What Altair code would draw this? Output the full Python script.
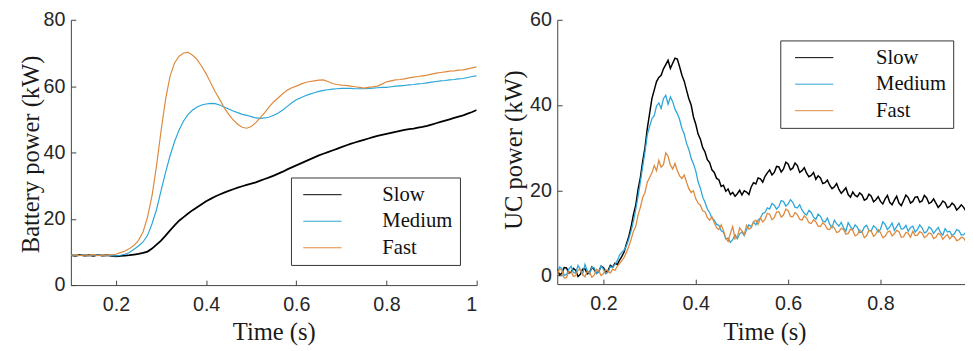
import altair as alt
import pandas as pd

SERIES = ["Slow", "Medium", "Fast"]
COLORS = ["#000000", "#2BA6D9", "#DE8A3E"]

# time grids (s)
t_left = [round(0.10 + 0.01 * i, 2) for i in range(91)]     # 0.10 .. 1.00
t_right = [round(0.10 + 0.005 * i, 3) for i in range(179)]  # 0.100 .. 0.990

# ---- Battery power (kW), left panel ----
bat_slow = [9.0, 8.8, 9.1, 8.9, 9.0, 8.8, 9.1, 8.9, 9.0, 8.8, 8.7,
            8.8, 8.9, 9.0, 9.2, 9.4, 9.7, 10.1, 11.0, 12.2, 13.4,
            14.9, 16.5, 18.0, 19.4, 20.5, 21.6, 22.6, 23.5, 24.4, 25.3,
            26.0, 26.7, 27.3, 27.9, 28.4, 28.9, 29.4, 29.8, 30.2, 30.6,
            31.0, 31.5, 32.0, 32.5, 33.0, 33.6, 34.2, 34.9, 35.5, 36.1,
            36.7, 37.3, 37.9, 38.5, 39.1, 39.6, 40.1, 40.6, 41.1, 41.6,
            42.1, 42.6, 43.0, 43.4, 43.8, 44.2, 44.6, 45.0, 45.3, 45.6,
            45.9, 46.2, 46.5, 46.8, 47.0, 47.2, 47.5, 47.7, 48.0, 48.4,
            48.8, 49.2, 49.6, 50.0, 50.4, 50.8, 51.2, 51.7, 52.2, 52.8]
bat_medium = [9.1, 8.9, 9.0, 9.2, 8.9, 9.0, 9.1, 8.9, 9.0, 8.9, 8.8,
              9.0, 9.3, 9.8, 10.8, 11.8, 13.0, 15.0, 18.5, 22.8, 28.5,
              34.0, 39.0, 43.3, 46.8, 49.5, 51.5, 52.8, 53.7, 54.3, 54.6,
              54.8, 54.7, 54.3, 53.7, 53.1, 52.5, 52.0, 51.5, 51.2, 50.8,
              50.4, 50.3, 50.4, 50.7, 51.2, 51.9, 52.8, 53.9, 55.0, 55.9,
              56.5, 57.1, 57.6, 58.0, 58.4, 58.7, 58.9, 59.1, 59.2, 59.3,
              59.3, 59.3, 59.2, 59.2, 59.2, 59.3, 59.4, 59.5, 59.6, 59.6,
              59.8, 60.0, 60.1, 60.2, 60.4, 60.5, 60.7, 60.8, 61.0, 61.2,
              61.4, 61.6, 61.7, 61.9, 62.0, 62.2, 62.3, 62.6, 62.9, 63.1]
bat_fast = [9.0, 9.2, 8.9, 9.1, 9.0, 9.2, 8.9, 9.1, 9.0, 9.2, 9.3,
            9.8, 10.3, 11.0, 12.0, 13.5, 16.0, 20.5, 27.0, 36.0, 46.5,
            56.0, 63.0, 67.0, 69.0, 70.0, 70.2, 69.3, 68.0, 66.0, 63.7,
            61.0, 58.3, 56.0, 53.5, 51.5, 49.8, 48.5, 47.6, 47.3, 47.8,
            49.0, 50.5, 52.0, 53.8, 55.3, 56.5, 57.7, 58.8, 59.5, 60.0,
            60.6, 61.1, 61.4, 61.6, 61.8, 61.9, 61.4, 60.8, 60.5, 60.3,
            60.2, 60.0, 59.8, 59.6, 59.4, 59.6, 59.8, 60.0, 60.6, 61.3,
            61.6, 61.9, 62.0, 62.2, 62.5, 62.7, 62.9, 63.1, 63.3, 63.6,
            63.9, 64.1, 64.3, 64.5, 64.6, 64.8, 64.9, 65.2, 65.5, 65.8]

# ---- UC power (kW), right panel, every 0.005 s ----
uc_slow = [1.5, 0.2, 0.5, 1.9, 1.8, 0.6, 0.8, 1.7, 1.2, -0.2,
           0.3, 1.5, 1.6, 0.4, 0.7, 2.0, 1.4, 0.5, 1.0, 2.2,
           1.9, 0.8, 1.2, 2.4, 2.0, 2.9, 2.6, 3.6, 4.5, 5.6,
           7.5, 9.2, 11.5, 14.3, 16.5, 20.2, 23.0, 26.8, 30.0, 34.5,
           38.0, 41.5, 43.5, 45.5, 46.5, 47.0, 48.5, 49.5, 50.5, 48.6,
           49.8, 51.0, 50.8, 49.0, 47.0, 45.6, 43.5, 41.5, 40.0, 37.2,
           35.5, 33.2, 32.0, 30.0, 29.0, 27.2, 26.5, 24.8, 24.2, 22.8,
           22.5, 20.9, 21.2, 19.8, 20.3, 19.0, 19.5, 18.6, 19.2, 20.0,
           18.9, 19.9, 19.6, 19.0, 20.8, 21.8, 21.5, 22.9, 22.7, 21.9,
           23.3, 24.1, 24.8, 23.6, 24.2, 25.6, 25.5, 24.3, 25.0, 26.6,
           26.2, 24.8, 25.2, 26.4, 25.8, 24.2, 24.6, 25.3, 24.0, 23.2,
           23.5, 24.2, 22.6, 23.4, 22.9, 21.6, 21.8, 22.4, 21.2, 20.4,
           20.8, 21.6, 20.2, 19.3, 19.9, 20.6, 19.0, 18.4, 19.6, 18.8,
           18.5, 19.4, 18.9, 17.7, 18.0, 19.1, 18.6, 17.3, 17.8, 18.5,
           17.4, 16.8, 18.0, 18.8, 17.2, 16.6, 17.7, 18.6, 17.0, 16.4,
           17.6, 18.9, 18.3, 17.0, 17.4, 18.4, 18.5, 17.2, 17.5, 18.8,
           18.2, 16.9, 17.2, 18.0, 17.0, 16.0, 16.6, 17.5, 17.1, 15.9,
           16.2, 17.0, 16.5, 15.4, 15.9, 16.6, 16.0, 15.1, 15.4]
uc_medium = [0.8, 2.0, 1.6, 0.1, 0.2, 1.5, 2.2, 0.7, 0.6, 2.4,
             1.4, 0.3, 2.6, 1.2, 0.4, 1.9, 1.8, 0.5, 0.9, 2.3,
             1.5, 0.4, 0.8, 2.1, 1.9, 2.6, 3.5, 4.8, 5.5, 6.0,
             7.0, 8.6, 10.5, 12.8, 15.5, 18.6, 22.0, 25.6, 29.0, 33.0,
             35.0, 36.8, 37.5, 39.8, 40.5, 39.2, 41.5, 42.3, 40.2, 41.9,
             40.8, 39.0, 38.0, 36.6, 34.5, 33.2, 31.0, 29.6, 27.5, 26.2,
             24.5, 22.0, 20.5, 18.4, 17.2, 15.6, 14.8, 13.5, 13.0, 12.0,
             11.8, 10.5, 10.2, 8.6, 8.8, 7.8, 8.4, 9.6, 8.6, 9.8,
             10.2, 9.4, 10.8, 11.9, 11.4, 12.6, 11.9, 13.0, 13.5, 14.6,
             14.8, 15.9, 15.6, 16.9, 16.5, 15.6, 16.2, 17.6, 17.4, 16.3,
             16.8, 17.8, 17.2, 16.0, 15.9, 16.6, 15.4, 14.6, 14.2, 15.3,
             14.8, 13.7, 13.2, 14.4, 13.9, 12.8, 12.6, 13.5, 12.0, 11.2,
             13.0, 12.2, 11.6, 12.5, 11.2, 10.4, 12.4, 11.5, 10.8, 11.9,
             11.3, 10.1, 10.2, 11.4, 11.8, 10.6, 10.5, 11.7, 11.2, 10.2,
             10.9, 12.6, 12.0, 10.8, 11.4, 12.3, 10.6, 11.5, 12.3, 10.9,
             11.0, 11.8, 10.4, 11.3, 11.6, 10.2, 10.8, 11.9, 11.2, 10.0,
             10.3, 11.4, 11.0, 9.9, 10.6, 11.3, 10.1, 9.5, 11.0, 10.2,
             10.4, 9.4, 9.8, 10.8, 10.5, 9.5, 9.6, 10.2, 10.0]
uc_fast = [0.2, 1.6, 1.2, -0.6, -0.5, 0.9, 0.9, -0.2, 0.0, 1.3,
           1.4, 0.2, -0.3, 1.0, 0.8, -0.4, 0.1, 1.5, 1.1, 0.0,
           0.4, 1.4, 1.0, 0.6, 1.5, 1.2, 2.2, 2.8, 3.5, 4.3,
           5.5, 6.9, 8.5, 10.4, 11.5, 14.2, 16.0, 18.3, 19.5, 21.9,
           23.0, 24.1, 25.8, 24.6, 27.0, 25.4, 26.0, 28.8, 28.0, 25.9,
           25.0, 26.3, 24.6, 23.4, 22.8, 23.6, 21.9, 20.4, 19.5, 19.9,
           18.0, 17.0, 16.5, 15.2, 15.0, 13.6, 13.0, 13.8, 12.4, 11.2,
           10.8, 11.9, 10.5, 8.8, 8.0, 9.9, 11.5, 8.6, 9.0, 11.2,
           10.5, 9.6, 11.8, 10.9, 11.2, 12.6, 13.0, 12.0, 13.5, 12.6,
           13.2, 14.6, 14.4, 13.1, 13.6, 14.9, 15.0, 13.7, 14.2, 15.6,
           15.2, 13.9, 13.8, 14.8, 14.3, 13.2, 13.0, 14.0, 13.5, 12.4,
           12.2, 13.1, 12.6, 11.6, 11.5, 12.4, 11.9, 10.9, 10.8, 11.7,
           11.2, 10.1, 10.3, 11.1, 10.8, 9.7, 9.9, 10.9, 10.6, 9.3,
           9.6, 10.7, 10.2, 8.9, 9.4, 10.6, 10.4, 9.2, 9.7, 10.8,
           10.1, 8.9, 9.2, 10.2, 10.5, 9.3, 9.8, 10.6, 10.3, 9.0,
           9.1, 10.1, 9.9, 9.0, 10.4, 9.4, 9.5, 10.3, 10.0, 8.9,
           9.3, 10.0, 9.8, 8.7, 9.0, 9.9, 9.6, 8.5, 9.2, 9.6,
           8.6, 9.3, 9.1, 8.2, 8.4, 9.0, 8.8, 7.9, 8.0]

left_x_ticks = [0.2, 0.4, 0.6, 0.8, 1.0]
left_y_ticks = [0, 20, 40, 60, 80]
right_x_ticks = [0.2, 0.4, 0.6, 0.8]
right_y_ticks = [0, 20, 40, 60]


def long_frame(t, cols):
    rows = []
    for name, vals in zip(SERIES, cols):
        for ti, v in zip(t, vals):
            rows.append({"t": ti, "v": v, "series": name})
    return pd.DataFrame(rows)


AX = dict(labelFont="Liberation Sans", labelFontSize=20, labelColor="#262626",
          titleFont="Liberation Serif", titleFontSize=25, titleFontWeight="normal",
          titleColor="#1a1a1a", domainColor="#404040", tickColor="#404040",
          tickSize={"expr": "-5"}, grid=False)


def panel(df, xdomain, xticks, ydomain, yticks, ytitle, w, h,
          ytx, yty, xtx, xty, lx, ly, symoff, laboff, w_slow, w_other):
    legend = alt.Legend(title=None, orient="none", legendX=lx, legendY=ly,
                        symbolType="M-0.5,0H3.4", symbolSize=400,
                        symbolStrokeWidth=1, symbolOffset=symoff,
                        labelOffset=laboff, labelFont="Liberation Serif",
                        labelFontSize=21, labelColor="#111111",
                        strokeColor="#333333", fillColor="#ffffff",
                        padding=7, rowPadding=5)
    enc = dict(
        x=alt.X("t:Q", scale=alt.Scale(domain=xdomain, nice=False, zero=False),
                axis=alt.Axis(values=xticks, format="~g", title="Time (s)",
                              labelPadding=15, titleX=xtx, titleY=xty,
                              titleBaseline="alphabetic", **AX)),
        y=alt.Y("v:Q", scale=alt.Scale(domain=ydomain, nice=False, zero=False),
                axis=alt.Axis(values=yticks, title=ytitle, labelPadding=11,
                              titleX=ytx, titleY=yty, titleAngle=270,
                              titleAlign="center", titleBaseline="middle", **AX)),
        color=alt.Color("series:N", scale=alt.Scale(domain=SERIES, range=COLORS),
                        legend=legend),
    )
    slow = alt.Chart(df).transform_filter(alt.datum.series == "Slow").mark_line(
        clip=True, strokeWidth=w_slow).encode(**enc)
    others = alt.Chart(df).transform_filter(alt.datum.series != "Slow").mark_line(
        clip=True, strokeWidth=w_other).encode(**enc)
    return alt.layer(slow, others).properties(width=w, height=h)


left = panel(long_frame(t_left, [bat_slow, bat_medium, bat_fast]),
             [0.1, 1.0], left_x_ticks, [0, 80], left_y_ticks,
             "Battery power (kW)", 413, 270,
             -41, 136.5, 206.5, 55, 224, 160.5, 0, 65, 1.8, 1.2)
right = panel(long_frame(t_right, [uc_slow, uc_medium, uc_fast]),
              [0.1, 0.983], right_x_ticks, [-2, 60], right_y_ticks,
              "UC power (kW)", 415, 269,
              -44, 132, 211, 56, 227, 21, 2.5, 67, 1.5, 1.3)

chart = alt.hconcat(left, right, spacing=82, bounds="flush").resolve_scale(
    color="independent"
).properties(
    padding={"left": 10, "top": -1, "right": 0, "bottom": 0}
).configure_view(strokeWidth=0).configure_legend(
    labelFont="Liberation Serif", labelFontSize=21
)

chart.save("out.html", embed_options={"renderer": "svg", "actions": False})
